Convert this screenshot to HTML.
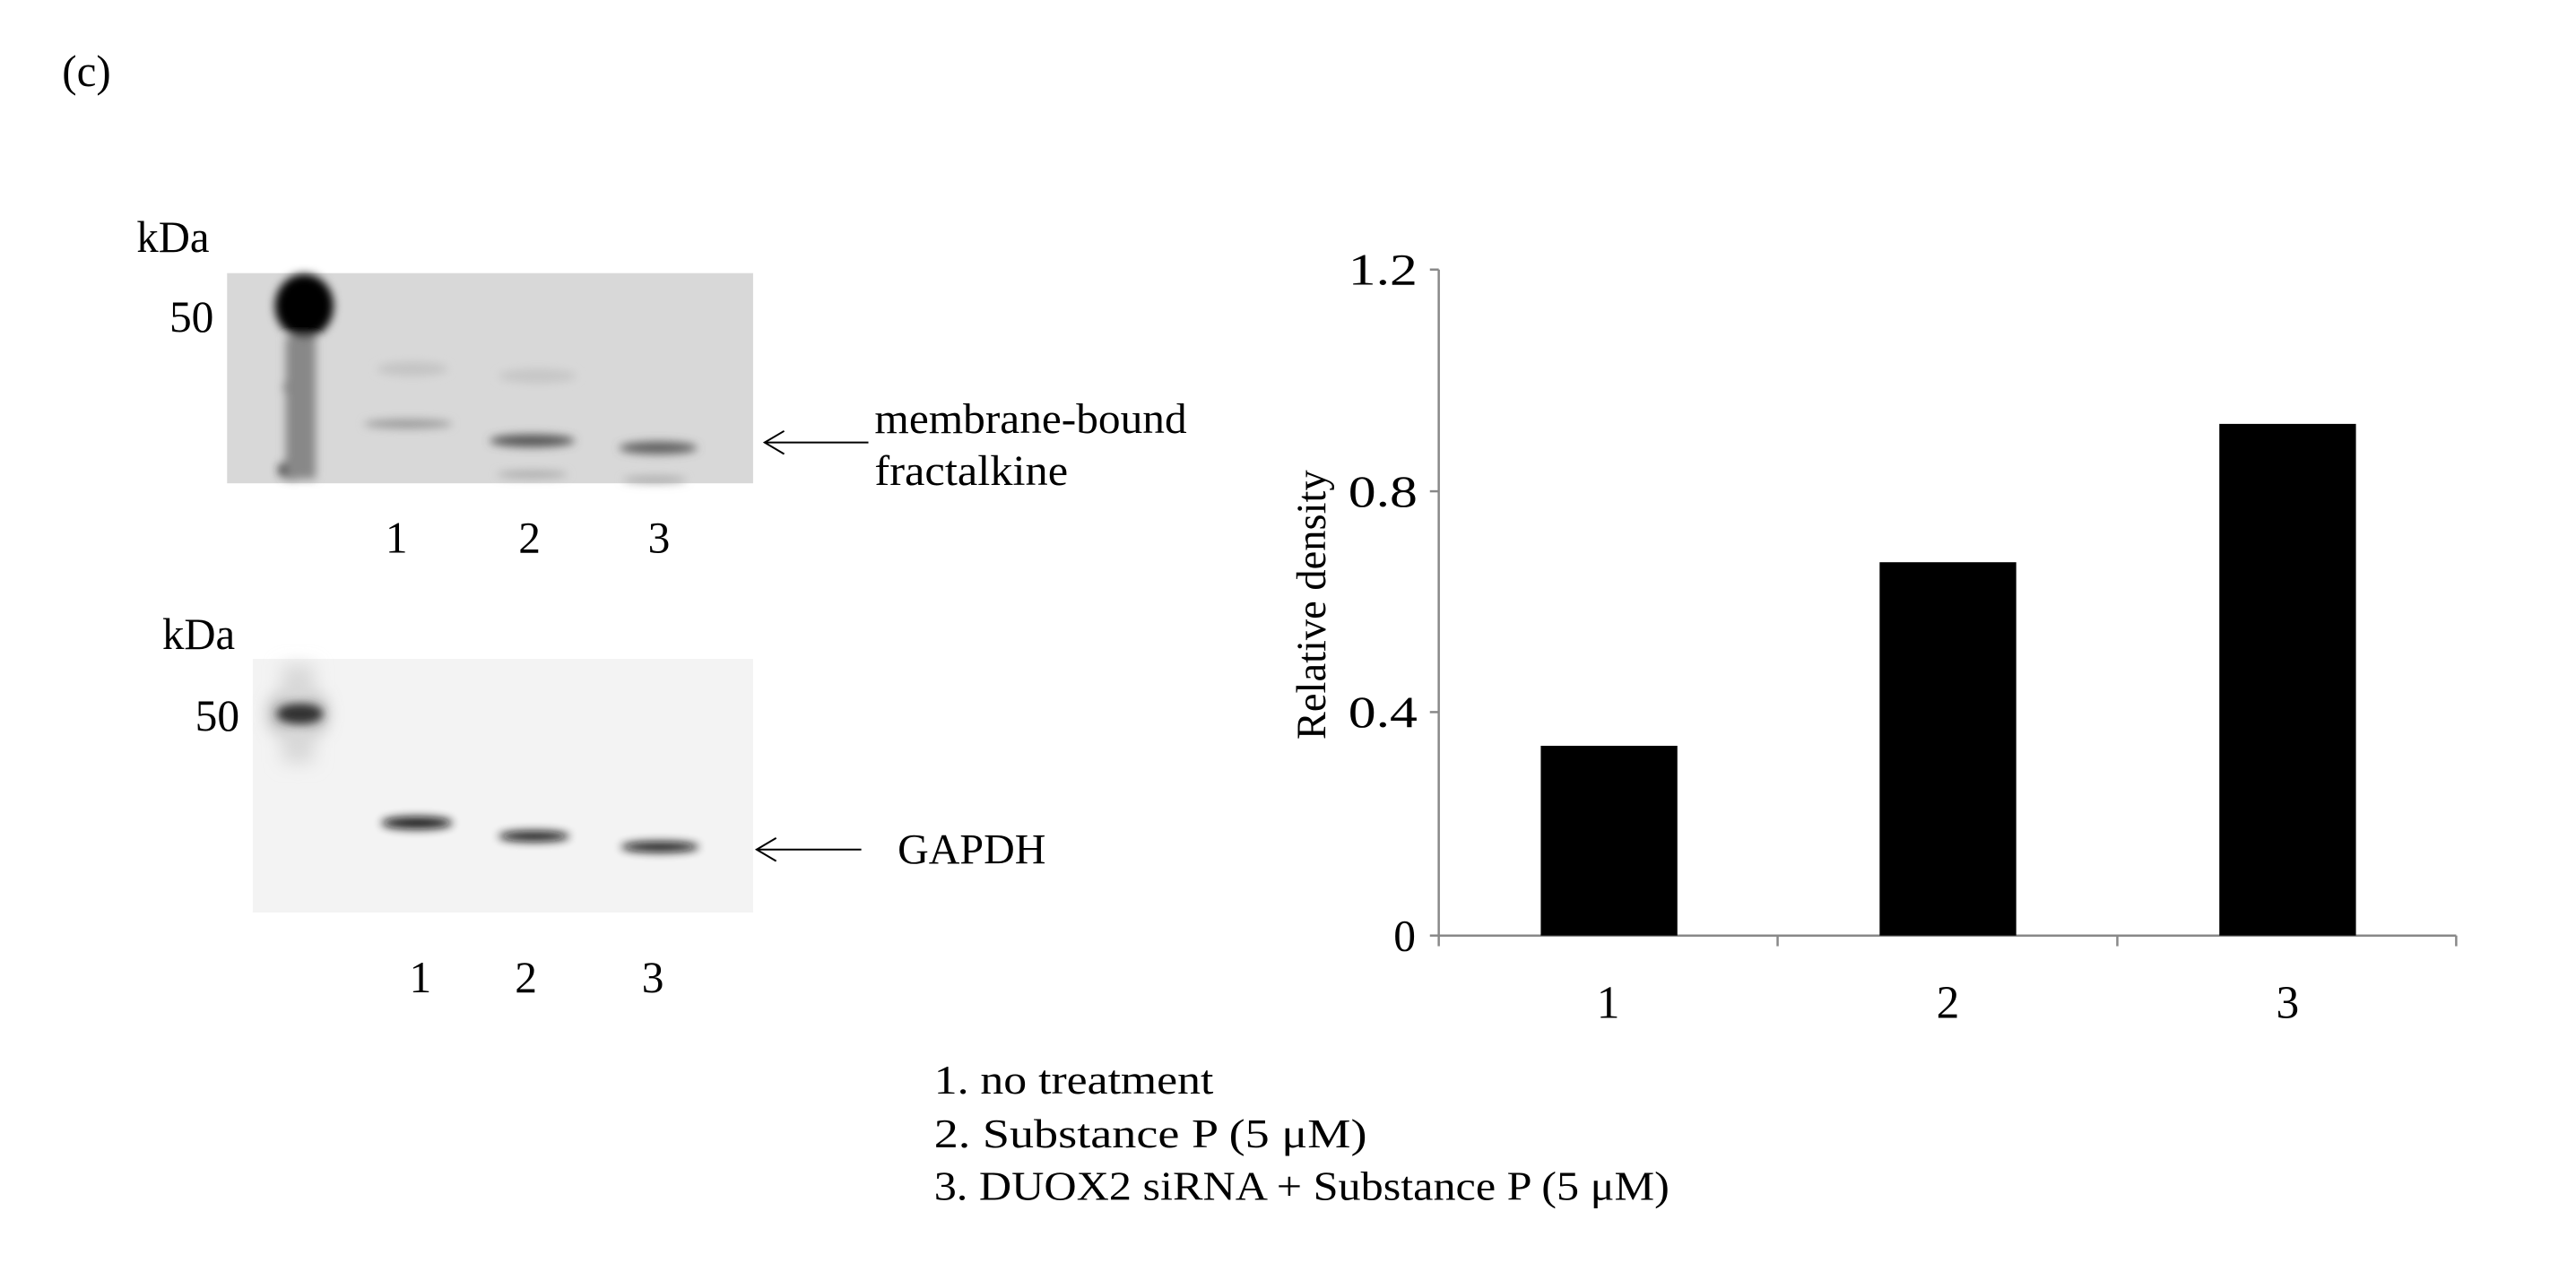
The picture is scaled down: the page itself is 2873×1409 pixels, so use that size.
<!DOCTYPE html>
<html><head><meta charset="utf-8"><style>html,body{margin:0;padding:0;background:#fff;}svg{display:block}</style></head>
<body>
<svg width="2873" height="1409" viewBox="0 0 2873 1409" xmlns="http://www.w3.org/2000/svg" font-family="'Liberation Serif', serif" fill="#000">
<defs>
<filter id="b1" x="-50%" y="-50%" width="200%" height="200%"><feGaussianBlur stdDeviation="5"/></filter>
<filter id="b2" x="-50%" y="-50%" width="200%" height="200%"><feGaussianBlur stdDeviation="10"/></filter>
</defs>
<g transform="scale(0.9893)">
<text x="70" y="97" font-size="50" textLength="55" lengthAdjust="spacingAndGlyphs">(c)</text>

<!-- top blot -->
<text x="154" y="284" font-size="50" textLength="82" lengthAdjust="spacingAndGlyphs">kDa</text>
<text x="191" y="374" font-size="50" textLength="50" lengthAdjust="spacingAndGlyphs">50</text>
<rect x="256" y="308" width="593" height="237" fill="#d8d8d8"/>
<g filter="url(#b1)">
<ellipse cx="343" cy="345" rx="33" ry="36" fill="#000"/>
<ellipse cx="338" cy="402" rx="16" ry="11" fill="#333"/>
<ellipse cx="338" cy="437" rx="18" ry="14" fill="#222"/>
<ellipse cx="338" cy="470" rx="16" ry="11" fill="#444"/>
<ellipse cx="330" cy="530" rx="16" ry="11" fill="#222"/>
<rect x="322" y="380" width="34" height="160" fill="#888"/>
<ellipse cx="465" cy="416" rx="40" ry="8" fill="#c4c4c4"/>
<ellipse cx="606" cy="424" rx="44" ry="8" fill="#c6c6c6"/>
<ellipse cx="460" cy="478" rx="50" ry="5" fill="#999"/>
<ellipse cx="600" cy="497" rx="48" ry="7" fill="#555"/>
<ellipse cx="742" cy="505" rx="44" ry="7" fill="#5e5e5e"/>
<ellipse cx="600" cy="535" rx="40" ry="4" fill="#a8a8a8"/>
<ellipse cx="738" cy="541" rx="36" ry="4" fill="#aaa"/>
</g>
<g font-size="50" text-anchor="middle">
<text x="447" y="623">1</text>
<text x="597" y="623">2</text>
<text x="743" y="623">3</text>
</g>
<line x1="862" y1="499" x2="979" y2="499" stroke="#000" stroke-width="2"/>
<polyline points="884,486 862,499 884,512" fill="none" stroke="#000" stroke-width="2"/>
<text x="986" y="488" font-size="48" textLength="352" lengthAdjust="spacingAndGlyphs">membrane-bound</text>
<text x="986" y="547" font-size="48" textLength="218" lengthAdjust="spacingAndGlyphs">fractalkine</text>

<!-- bottom blot -->
<text x="183" y="732" font-size="50" textLength="82" lengthAdjust="spacingAndGlyphs">kDa</text>
<text x="220" y="824" font-size="50" textLength="50" lengthAdjust="spacingAndGlyphs">50</text>
<rect x="285" y="743" width="564" height="286" fill="#f3f3f3"/>
<g filter="url(#b2)">
<ellipse cx="336" cy="805" rx="30" ry="30" fill="#888"/>
<rect x="318" y="750" width="36" height="110" fill="#d8d8d8"/>
</g>
<g filter="url(#b1)">
<ellipse cx="338" cy="805" rx="26" ry="12" fill="#333"/>
</g>
<g filter="url(#b1)" opacity="0.95">
<ellipse cx="470" cy="928" rx="40" ry="7" fill="#111"/>
<ellipse cx="602" cy="943" rx="40" ry="6" fill="#111"/>
<ellipse cx="744" cy="955" rx="44" ry="6" fill="#111"/>
</g>
<g font-size="50" text-anchor="middle">
<text x="474" y="1119">1</text>
<text x="593" y="1119">2</text>
<text x="736" y="1119">3</text>
</g>
<line x1="853" y1="958" x2="971" y2="958" stroke="#000" stroke-width="2"/>
<polyline points="875,945 853,958 875,971" fill="none" stroke="#000" stroke-width="2"/>
<text x="1012" y="974" font-size="48" textLength="167" lengthAdjust="spacingAndGlyphs">GAPDH</text>

<!-- chart -->
<g stroke="#888" stroke-width="2.5">
<line x1="1622" y1="304" x2="1622" y2="1055"/>
<line x1="1622" y1="1055" x2="2769" y2="1055"/>
<line x1="1612" y1="304" x2="1622" y2="304"/>
<line x1="1612" y1="554" x2="1622" y2="554"/>
<line x1="1612" y1="803" x2="1622" y2="803"/>
<line x1="1612" y1="1055" x2="1622" y2="1055"/>
<line x1="1622" y1="1055" x2="1622" y2="1067"/>
<line x1="2004" y1="1055" x2="2004" y2="1067"/>
<line x1="2387" y1="1055" x2="2387" y2="1067"/>
<line x1="2769" y1="1055" x2="2769" y2="1067"/>
</g>
<rect x="1737" y="841" width="154" height="214"/>
<rect x="2119" y="634" width="154" height="421"/>
<rect x="2502" y="478" width="154" height="577"/>
<g font-size="50">
<text x="1520" y="321" textLength="78" lengthAdjust="spacingAndGlyphs">1.2</text>
<text x="1520" y="571" textLength="78" lengthAdjust="spacingAndGlyphs">0.8</text>
<text x="1520" y="820" textLength="78" lengthAdjust="spacingAndGlyphs">0.4</text>
<text x="1571" y="1072">0</text>
</g>
<g font-size="52" text-anchor="middle">
<text x="1813" y="1148">1</text>
<text x="2196" y="1148">2</text>
<text x="2579" y="1148">3</text>
</g>
<text transform="translate(1494,682) rotate(-90)" font-size="47" text-anchor="middle">Relative density</text>

<g font-size="46">
<text x="1053" y="1233" textLength="315" lengthAdjust="spacingAndGlyphs">1. no treatment</text>
<text x="1053" y="1294" textLength="488" lengthAdjust="spacingAndGlyphs">2. Substance P (5 μM)</text>
<text x="1053" y="1353" textLength="829" lengthAdjust="spacingAndGlyphs">3. DUOX2 siRNA + Substance P (5 μM)</text>
</g>
</g>
</svg>
</body></html>
